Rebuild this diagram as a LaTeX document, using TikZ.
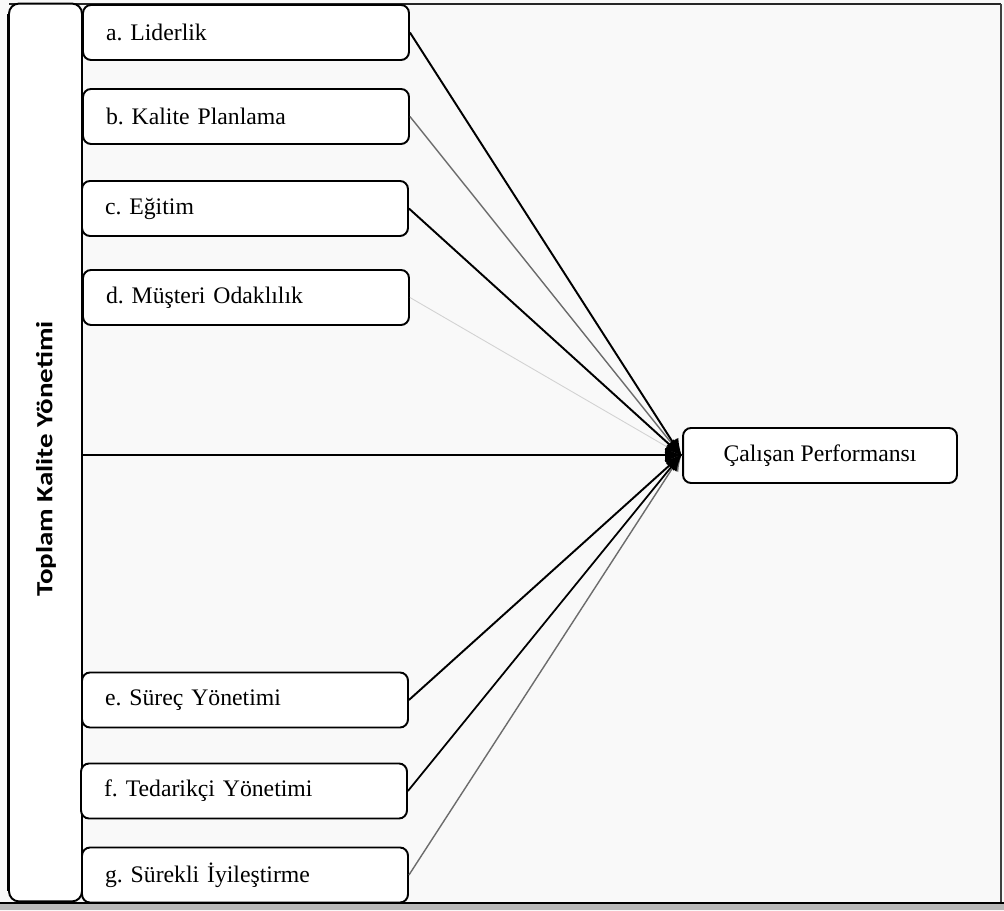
\documentclass[tikz,border=0pt]{standalone}
\usepackage{fontspec}
\setmainfont{Liberation Serif}
\newfontfamily\labelfont{Carlito}
\usetikzlibrary{arrows.meta,calc}
\frenchspacing
\begin{document}
\begin{tikzpicture}[x=0.02cm,y=-0.02cm,
  itembox/.style={draw=black, line width=1.1pt, rounded corners=0.16cm, fill=white,
    minimum width=6.52cm, minimum height=1.1cm, inner xsep=0.46cm, text width=5.6cm,
    align=left, font=\fontsize{13.5}{16}\selectfont},
  targetbox/.style={draw=black, line width=1.1pt, rounded corners=0.16cm, fill=white,
    minimum width=5.48cm, minimum height=1.1cm, font=\fontsize{13.5}{16}\selectfont},
  colbox/.style={draw=black, line width=1.1pt, rounded corners=0.2cm, fill=white,
    minimum width=1.46cm, minimum height=17.96cm},
  conn/.style={line width=1.1pt, -{Latex[length=10pt,width=8pt]}, shorten >=-1pt},
  darkconn/.style={conn, draw=black},
  grayconn/.style={conn, draw=gray!85!black, line width=0.8pt},
  lightconn/.style={conn, draw=gray!35, line width=0.5pt},
]
\useasboundingbox (0,0) rectangle (1004,911);
\fill[gray!5] (0,0) rectangle (1004,911);
% outer frame
\fill[gray!55] (0,903) rectangle (1004,910);
\draw[line width=1.3pt, black!85] (9,4) -- (1001,4);
\draw[line width=0.8pt, black!75] (1001,4) -- (1001,903);
\draw[line width=1.5pt, black] (0,903) -- (1004,903);
% left column
\node[colbox] (col) at (45.5,452.5) {};
\draw[line width=1.6pt, black] ($(col.north west)+(0,-0.22cm)$) -- ($(col.south west)+(0,0.22cm)$);
\node[rotate=90, font=\labelfont\bfseries\fontsize{13.2}{16}\selectfont] (lbl) at (46,459) {\scalebox{1.25}[1]{Toplam Kalite Yönetimi}};
% items
\node[itembox] (a) at (246,32.5) {a. Liderlik};
\node[itembox] (b) at (246,116.5) {b. Kalite Planlama};
\node[itembox] (c) at (245,208.5) {c. Eğitim};
\node[itembox] (d) at (246,297.5) {d. Müşteri Odaklılık};
\node[itembox] (e) at (245,700) {e. Süreç Yönetimi};
\node[itembox] (f) at (244,791) {f. Tedarikçi Yönetimi};
\node[itembox] (g) at (245,875) {g. Sürekli İyileştirme};
% target
\node[targetbox] (t) at (820,455.5) {Çalışan Performansı};
\coordinate (cp) at (681,455);
% connectors
\draw[lightconn] (d.east) -- (cp);
\draw[grayconn] (b.east) -- (cp);
\draw[grayconn] (g.east) -- (cp);
\draw[darkconn] (a.east) -- (cp);
\draw[darkconn] (c.east) -- (cp);
\draw[darkconn] (e.east) -- (cp);
\draw[darkconn, line width=1pt] (f.east) -- (cp);
\draw[darkconn] (col.east |- cp) -- (cp);
\end{tikzpicture}
\end{document}
